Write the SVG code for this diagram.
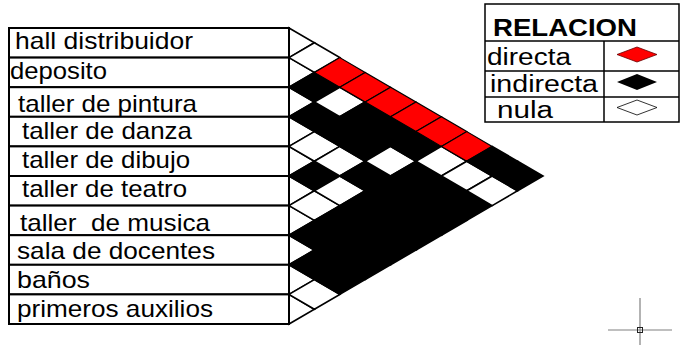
<svg xmlns="http://www.w3.org/2000/svg" xmlns:xlink="http://www.w3.org/1999/xlink" width="683" height="347" viewBox="0 0 683 347">
<style>
.row{fill:#fff;stroke:#000;stroke-width:2}
.lbl{font-family:"Liberation Sans",Arial,sans-serif;font-size:24px;fill:#000}
.w{fill:#fff;stroke:#000;stroke-width:1.6}
.b{fill:#000;stroke:#000;stroke-width:1.6}
.r{fill:#ff0000;stroke:#000;stroke-width:1.2}
.leg{fill:none;stroke:#000;stroke-width:1.5}
.lt{font-family:"Liberation Sans",Arial,sans-serif;font-size:23px;fill:#000}
.cross{stroke:#808080;stroke-width:1.2;fill:none}
</style>
<defs>
<polygon id="cell" points="-25.4,0 0,-14.8 25.4,0 0,14.8"/>
<polygon id="half" points="0,-14.8 25.4,0 0,14.8"/>
</defs>
<rect width="683" height="347" fill="#fff"/>
<g id="matrix">
<use xlink:href="#half" x="289" y="42.8" class="w"/>
<use xlink:href="#half" x="289" y="72.4" class="w"/>
<use xlink:href="#half" x="289" y="102" class="w"/>
<use xlink:href="#half" x="289" y="131.6" class="w"/>
<use xlink:href="#half" x="289" y="161.2" class="w"/>
<use xlink:href="#half" x="289" y="190.8" class="w"/>
<use xlink:href="#half" x="289" y="220.4" class="w"/>
<use xlink:href="#half" x="289" y="250" class="w"/>
<use xlink:href="#half" x="289" y="279.6" class="w"/>
<use xlink:href="#half" x="289" y="309.2" class="w"/>
<use xlink:href="#cell" x="314.4" y="57.6" class="w"/>
<use xlink:href="#cell" x="314.4" y="87.2" class="b"/>
<use xlink:href="#cell" x="314.4" y="116.8" class="b"/>
<use xlink:href="#cell" x="314.4" y="146.4" class="w"/>
<use xlink:href="#cell" x="314.4" y="176" class="b"/>
<use xlink:href="#cell" x="314.4" y="205.6" class="w"/>
<use xlink:href="#cell" x="314.4" y="235.2" class="b"/>
<use xlink:href="#cell" x="314.4" y="264.8" class="b"/>
<use xlink:href="#cell" x="314.4" y="294.4" class="w"/>
<use xlink:href="#cell" x="339.8" y="72.4" class="r"/>
<use xlink:href="#cell" x="339.8" y="102" class="w"/>
<use xlink:href="#cell" x="339.8" y="131.6" class="b"/>
<use xlink:href="#cell" x="339.8" y="161.2" class="w"/>
<use xlink:href="#cell" x="339.8" y="190.8" class="w"/>
<use xlink:href="#cell" x="339.8" y="220.4" class="b"/>
<use xlink:href="#cell" x="339.8" y="250" class="b"/>
<use xlink:href="#cell" x="339.8" y="279.6" class="b"/>
<use xlink:href="#cell" x="365.2" y="87.2" class="r"/>
<use xlink:href="#cell" x="365.2" y="116.8" class="b"/>
<use xlink:href="#cell" x="365.2" y="146.4" class="b"/>
<use xlink:href="#cell" x="365.2" y="176" class="b"/>
<use xlink:href="#cell" x="365.2" y="205.6" class="b"/>
<use xlink:href="#cell" x="365.2" y="235.2" class="b"/>
<use xlink:href="#cell" x="365.2" y="264.8" class="b"/>
<use xlink:href="#cell" x="390.6" y="102" class="r"/>
<use xlink:href="#cell" x="390.6" y="131.6" class="b"/>
<use xlink:href="#cell" x="390.6" y="161.2" class="w"/>
<use xlink:href="#cell" x="390.6" y="190.8" class="b"/>
<use xlink:href="#cell" x="390.6" y="220.4" class="b"/>
<use xlink:href="#cell" x="390.6" y="250" class="b"/>
<use xlink:href="#cell" x="416" y="116.8" class="r"/>
<use xlink:href="#cell" x="416" y="146.4" class="b"/>
<use xlink:href="#cell" x="416" y="176" class="b"/>
<use xlink:href="#cell" x="416" y="205.6" class="b"/>
<use xlink:href="#cell" x="416" y="235.2" class="b"/>
<use xlink:href="#cell" x="441.4" y="131.6" class="r"/>
<use xlink:href="#cell" x="441.4" y="161.2" class="w"/>
<use xlink:href="#cell" x="441.4" y="190.8" class="b"/>
<use xlink:href="#cell" x="441.4" y="220.4" class="b"/>
<use xlink:href="#cell" x="466.8" y="146.4" class="r"/>
<use xlink:href="#cell" x="466.8" y="176" class="w"/>
<use xlink:href="#cell" x="466.8" y="205.6" class="b"/>
<use xlink:href="#cell" x="492.2" y="161.2" class="b"/>
<use xlink:href="#cell" x="492.2" y="190.8" class="w"/>
<use xlink:href="#cell" x="517.6" y="176" class="b"/>
</g>
<g id="rows">
<g id="row1"><rect class="row" x="9" y="28" width="280" height="29.6"/><text class="lbl" x="15" y="49" textLength="178" lengthAdjust="spacingAndGlyphs">hall distribuidor</text></g>
<g id="row2"><rect class="row" x="9" y="57.6" width="280" height="29.6"/><text class="lbl" x="10" y="79" textLength="97" lengthAdjust="spacingAndGlyphs">deposito</text></g>
<g id="row3"><rect class="row" x="9" y="87.2" width="280" height="29.6"/><text class="lbl" x="18" y="112" textLength="179" lengthAdjust="spacingAndGlyphs">taller de pintura</text></g>
<g id="row4"><rect class="row" x="9" y="116.8" width="280" height="29.6"/><text class="lbl" x="22" y="139" textLength="170" lengthAdjust="spacingAndGlyphs">taller de danza</text></g>
<g id="row5"><rect class="row" x="9" y="146.4" width="280" height="29.6"/><text class="lbl" x="22" y="168" textLength="168" lengthAdjust="spacingAndGlyphs">taller de dibujo</text></g>
<g id="row6"><rect class="row" x="9" y="176" width="280" height="29.6"/><text class="lbl" x="22" y="197" textLength="165" lengthAdjust="spacingAndGlyphs">taller de teatro</text></g>
<g id="row7"><rect class="row" x="9" y="205.6" width="280" height="29.6"/><text class="lbl" x="20" y="231" textLength="190" lengthAdjust="spacingAndGlyphs" xml:space="preserve" style="white-space:pre">taller  de musica</text></g>
<g id="row8"><rect class="row" x="9" y="235.2" width="280" height="29.6"/><text class="lbl" x="17" y="259" textLength="198" lengthAdjust="spacingAndGlyphs">sala de docentes</text></g>
<g id="row9"><rect class="row" x="9" y="264.8" width="280" height="29.6"/><text class="lbl" x="17" y="288" textLength="73" lengthAdjust="spacingAndGlyphs">baños</text></g>
<g id="row10"><rect class="row" x="9" y="294.4" width="280" height="29.6"/><text class="lbl" x="17" y="317" textLength="196" lengthAdjust="spacingAndGlyphs">primeros auxilios</text></g>
</g>
<g id="legend">
<rect class="leg" x="485" y="4" width="194" height="118"/>
<line class="leg" x1="485" y1="41" x2="679" y2="41"/>
<line class="leg" x1="485" y1="71" x2="679" y2="71"/>
<line class="leg" x1="485" y1="97" x2="679" y2="97"/>
<line class="leg" x1="604" y1="41" x2="604" y2="122"/>
<text class="lt" x="493" y="36" font-weight="bold" font-size="24" textLength="144" lengthAdjust="spacingAndGlyphs">RELACION</text>
<text class="lt" x="487" y="65" textLength="84" lengthAdjust="spacingAndGlyphs">directa</text>
<text class="lt" x="490" y="92" textLength="108" lengthAdjust="spacingAndGlyphs">indirecta</text>
<text class="lt" x="497" y="118" textLength="56" lengthAdjust="spacingAndGlyphs">nula</text>
<polygon points="617,54.5 637,47 657,54.5 637,62" fill="#ff0000" stroke="#600" stroke-width="0.8"/>
<polygon points="617,82 637,74 657,82 637,90" fill="#000"/>
<polygon points="617,107.5 637,100 657,107.5 637,115" fill="#fff" stroke="#000" stroke-width="0.8"/>
</g>
<g id="crosshair">
<line class="cross" x1="640" y1="298" x2="640" y2="345"/>
<line class="cross" x1="608" y1="330" x2="672" y2="330"/>
<rect x="637.5" y="327.5" width="5" height="5" fill="none" stroke="#222" stroke-width="1"/>
</g>
</svg>
